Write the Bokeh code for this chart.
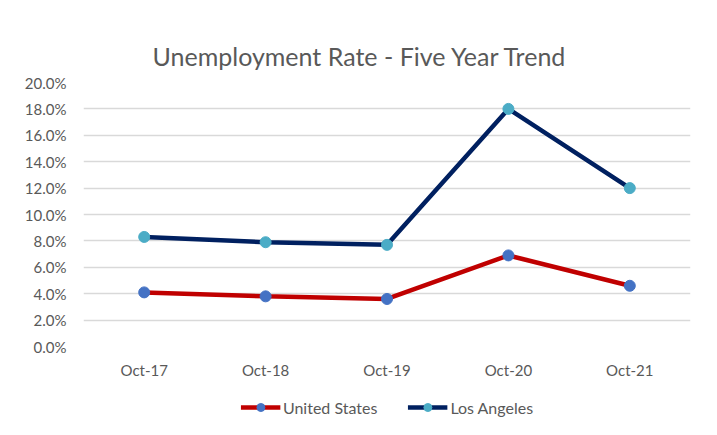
import numpy as np
from bokeh.plotting import figure
from bokeh.layouts import column
from bokeh.models import FixedTicker, NumeralTickFormatter, Legend, LegendItem, Range1d
from bokeh.embed import file_html
from bokeh.resources import INLINE

months = ["Oct-17", "Oct-18", "Oct-19", "Oct-20", "Oct-21"]
us_rate = [0.041, 0.038, 0.036, 0.069, 0.046]
la_rate = [0.083, 0.079, 0.077, 0.180, 0.120]
y_ticks = [0.0, 0.02, 0.04, 0.06, 0.08, 0.10, 0.12, 0.14, 0.16, 0.18, 0.20]
series_names = ["United States", "Los Angeles"]

FONT = "Lato"
GREY = "#595959"
US_LINE, US_DOT = "#C00000", "#4472C4"
LA_LINE, LA_DOT = "#002060", "#4BACC6"

p = figure(frame_width=607, frame_height=264, x_range=months, y_range=Range1d(0, 0.2),
           output_backend="svg", toolbar_location=None,
           title="Unemployment Rate - Five Year Trend",
           min_border_left=83, min_border_right=19, min_border_top=82, min_border_bottom=40)
p.outline_line_color = None

p.title.align = "left"
p.title.text_font = FONT
p.title.text_font_size = "25px"
p.title.text_font_style = "normal"
p.title.text_color = GREY
p.title.standoff = 24
p.title.offset = 69

p.yaxis.ticker = FixedTicker(ticks=y_ticks)
p.yaxis.formatter = NumeralTickFormatter(format="0.0%")
for ax in (p.xaxis, p.yaxis):
    ax.axis_line_color = None
    ax.major_tick_line_color = None
    ax.minor_tick_line_color = None
    ax.major_tick_out = 0
    ax.major_tick_in = 0
    ax.major_label_text_font = FONT
    ax.major_label_text_font_size = "15px"
    ax.major_label_text_color = GREY
p.yaxis.major_label_standoff = 17
p.xaxis.major_label_standoff = 14

p.xgrid.grid_line_color = None
p.ygrid.grid_line_color = "#d9d9d9"
p.ygrid.grid_line_width = 1.5

p.line(months, us_rate, line_color=US_LINE, line_width=4.5)
p.scatter(months, us_rate, size=11, fill_color=US_DOT, line_color=US_DOT)
p.line(months, la_rate, line_color=LA_LINE, line_width=4.5)
p.scatter(months, la_rate, size=11, fill_color=LA_DOT, line_color=LA_DOT)

# Legend strip below the chart (a small figure holding only the legend;
# its renderers hold a single NaN point so they draw nothing but their legend glyphs)
lg = figure(width=709, height=42, output_backend="svg", toolbar_location=None,
            x_range=Range1d(0, 1), y_range=Range1d(0, 1),
            x_axis_location=None, y_axis_location=None,
            min_border_left=20, min_border_right=0, min_border_top=0, min_border_bottom=0)
lg.outline_line_color = None
lg.xgrid.grid_line_color = None
lg.ygrid.grid_line_color = None
nan = np.array([np.nan])
us_l = lg.line(x=nan, y=nan, line_color=US_LINE, line_width=4.5)
us_s = lg.scatter(x=nan, y=nan, size=11, fill_color=US_DOT, line_color=US_DOT)
la_l = lg.line(x=nan, y=nan, line_color=LA_LINE, line_width=4.5)
la_s = lg.scatter(x=nan, y=nan, size=11, fill_color=LA_DOT, line_color=LA_DOT)

legend = Legend(items=[LegendItem(label=series_names[0], renderers=[us_l, us_s]),
                       LegendItem(label=series_names[1], renderers=[la_l, la_s])],
                orientation="horizontal", location="center",
                label_text_font=FONT, label_text_font_size="16px", label_text_color=GREY,
                glyph_width=40, label_standoff=3, spacing=30, border_line_color=None,
                background_fill_alpha=0, margin=0, padding=4)
lg.add_layout(legend)

page = column(p, lg, spacing=0)
open("out.html", "w").write(file_html(page, INLINE))
